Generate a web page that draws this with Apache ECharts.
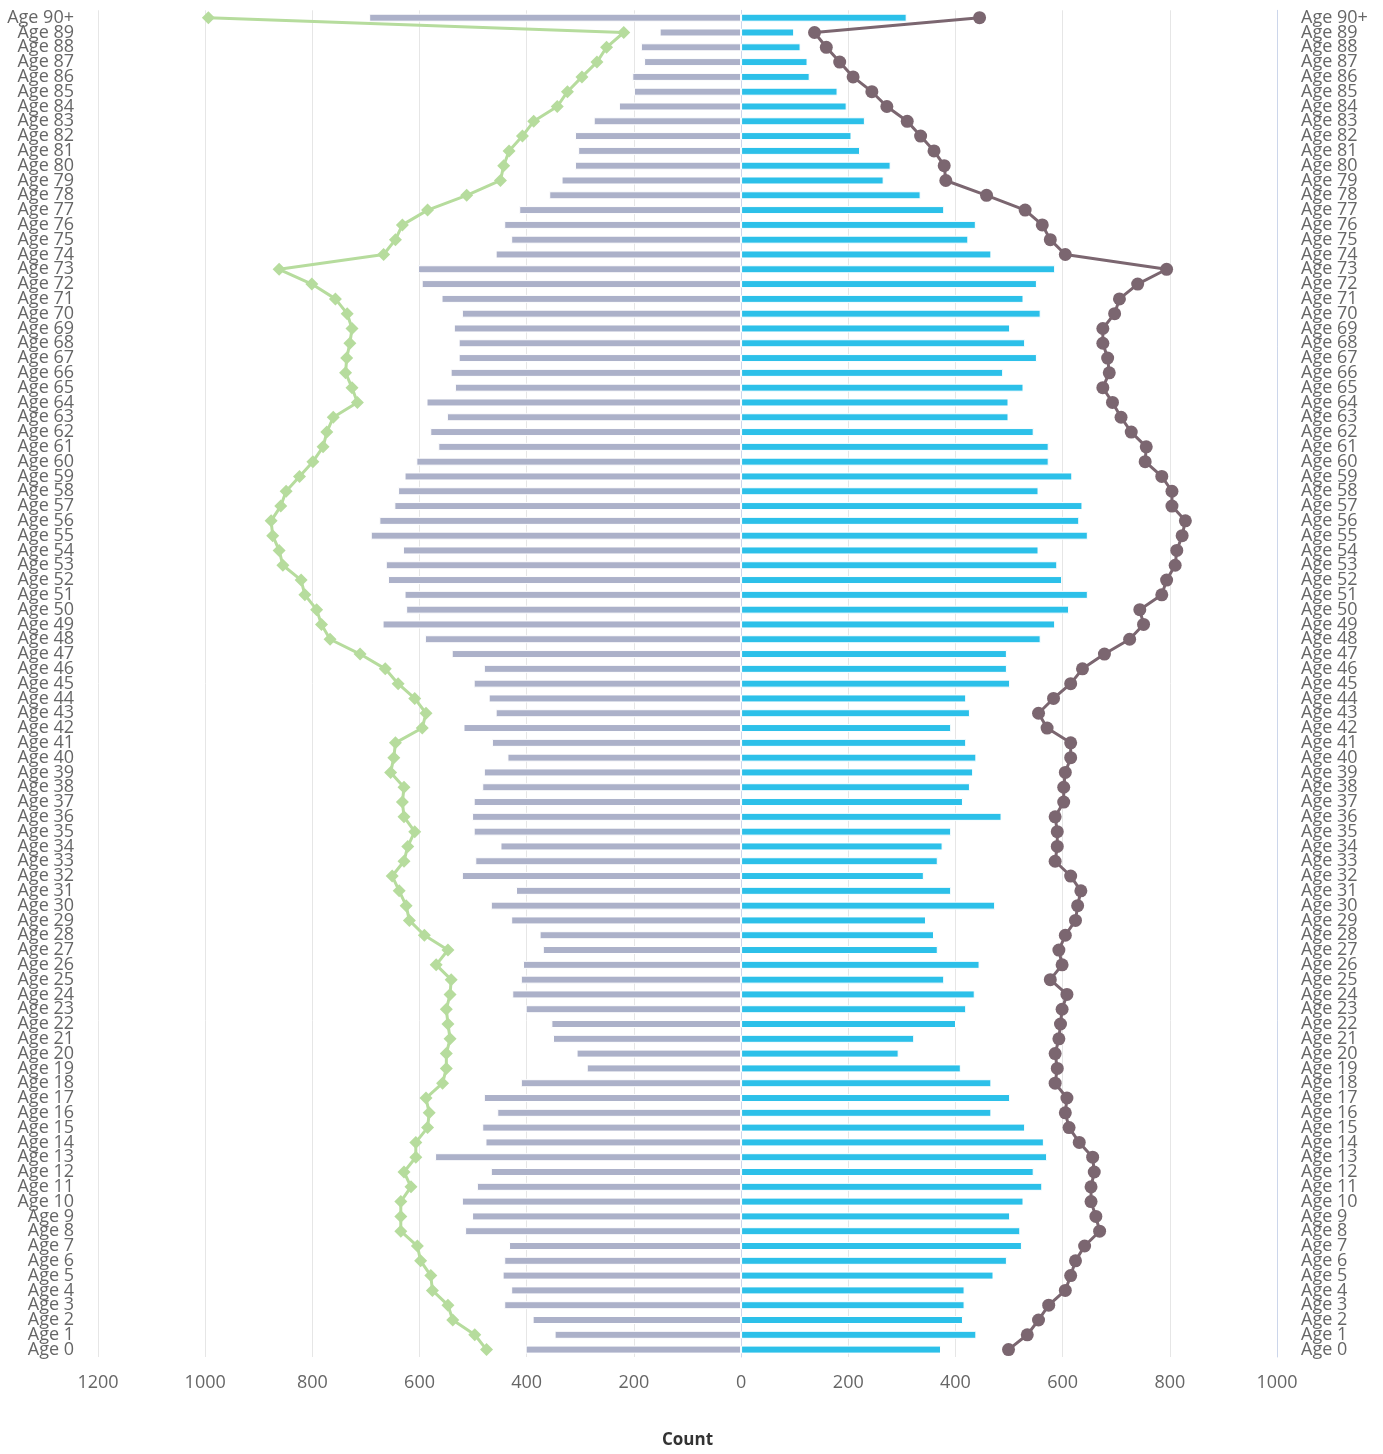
<!DOCTYPE html>
<html>
<head>
<meta charset="utf-8">
<script src="https://cdn.jsdelivr.net/npm/echarts@6/dist/echarts.min.js"></script>
<style>
html,body{margin:0;padding:0;background:#fff;}
#chart{width:1383px;height:1454px;}
</style>
</head>
<body>
<div id="chart"></div>
<script>
// Categories, top to bottom
const categories = ['Age 90+'];
for (let a = 89; a >= 0; a--) categories.push('Age ' + a);

// Left side bars (plotted to the left of 0), top to bottom
const leftBar = [694,152,187,181,203,200,228,275,310,304,310,335,358,414,442,429,458,603,596,559,521,536,527,527,542,534,587,549,580,565,606,628,640,647,675,691,631,663,659,628,625,669,590,540,480,499,471,458,518,465,436,480,483,499,502,499,449,496,521,420,467,429,376,370,407,411,427,402,354,351,307,288,411,480,455,483,477,571,467,493,521,502,515,433,442,445,429,442,389,348,402];
// Left side line (green diamonds)
const leftLine = [994,219,251,269,297,324,343,387,408,433,443,449,512,585,632,645,667,862,801,757,735,726,730,736,738,726,716,761,773,780,799,824,849,859,877,874,862,855,821,814,792,783,767,711,664,640,609,588,595,645,648,654,629,632,629,609,622,629,651,638,625,619,591,547,569,541,543,550,547,543,550,550,557,588,582,585,607,607,629,616,635,635,635,604,598,579,576,547,538,497,475];
// Right side bars (cyan)
const rightBar = [309,99,111,124,128,180,197,231,206,222,279,266,335,379,438,424,467,586,552,527,559,502,530,552,489,527,499,499,546,574,574,618,555,637,631,647,555,590,599,647,612,586,559,496,496,502,420,427,392,420,439,433,427,414,486,392,376,367,341,392,474,345,360,367,445,379,436,420,401,323,294,410,467,502,467,530,565,571,546,562,527,502,521,524,496,471,417,417,414,439,373];
// Right side line (purple circles)
const rightLine = [445,137,159,184,209,244,272,310,335,360,379,382,458,530,562,577,605,794,740,706,697,675,675,684,687,675,693,709,728,756,754,785,804,804,829,823,813,810,794,785,744,751,725,678,637,615,583,555,571,615,615,605,602,602,586,590,590,586,615,634,628,624,605,593,599,577,608,599,596,593,586,590,586,608,605,612,631,656,659,653,653,662,669,641,624,615,605,574,555,534,499];

// x-axis tick values
const xMin = -1200, xMax = 1000, xStep = 200;

const FONT = '"Open Sans", sans-serif';
const chart = echarts.init(document.getElementById('chart'), null, {renderer: 'canvas'});

const yAxisCommon = {
  type: 'category',
  data: categories,
  inverse: true,
  axisLine: {show: true, lineStyle: {color: '#ccd6eb', width: 1}},
  axisTick: {show: false},
  splitLine: {show: false},
  axisLabel: {interval: 0, color: '#666666', fontSize: 18, fontFamily: FONT, margin: 24}
};

chart.setOption({
  animation: false,
  backgroundColor: '#ffffff',
  grid: {left: 98, right: 106, top: 10.3, bottom: 94.7, containLabel: false},
  xAxis: {
    type: 'value',
    min: xMin, max: xMax, interval: xStep,
    name: 'Count',
    nameLocation: 'middle',
    nameGap: 75,
    nameTextStyle: {color: '#333333', fontSize: 17, fontWeight: 'bold', fontFamily: FONT},
    axisLine: {show: false},
    axisTick: {show: false},
    axisLabel: {color: '#666666', fontSize: 18, fontFamily: FONT, margin: 17,
      formatter: v => String(Math.abs(v))},
    splitLine: {show: true, lineStyle: {color: '#e6e6e6', width: 1}}
  },
  yAxis: [
    Object.assign({position: 'left'}, yAxisCommon),
    Object.assign({position: 'right'}, yAxisCommon)
  ],
  series: [
    {
      type: 'bar', name: 'leftBar', yAxisIndex: 0,
      data: leftBar.map(v => -v),
      barWidth: 8, barGap: '-100%',
      itemStyle: {color: '#acb1c9', borderColor: '#ffffff', borderWidth: 1}, z: 2
    },
    {
      type: 'bar', name: 'rightBar', yAxisIndex: 0,
      data: rightBar,
      barWidth: 8, barGap: '-100%',
      itemStyle: {color: '#2cc0e9', borderColor: '#ffffff', borderWidth: 1}, z: 2
    },
    {
      type: 'line', name: 'leftLine', yAxisIndex: 0,
      data: leftLine.map(v => -v),
      symbol: 'diamond', symbolSize: 13,
      lineStyle: {color: '#b6dc9d', width: 3},
      itemStyle: {color: '#b6dc9d'}, z: 3
    },
    {
      type: 'line', name: 'rightLine', yAxisIndex: 0,
      data: rightLine,
      symbol: 'circle', symbolSize: 13,
      lineStyle: {color: '#7b6670', width: 3},
      itemStyle: {color: '#7b6670'}, z: 3
    }
  ]
});
</script>
</body>
</html>
